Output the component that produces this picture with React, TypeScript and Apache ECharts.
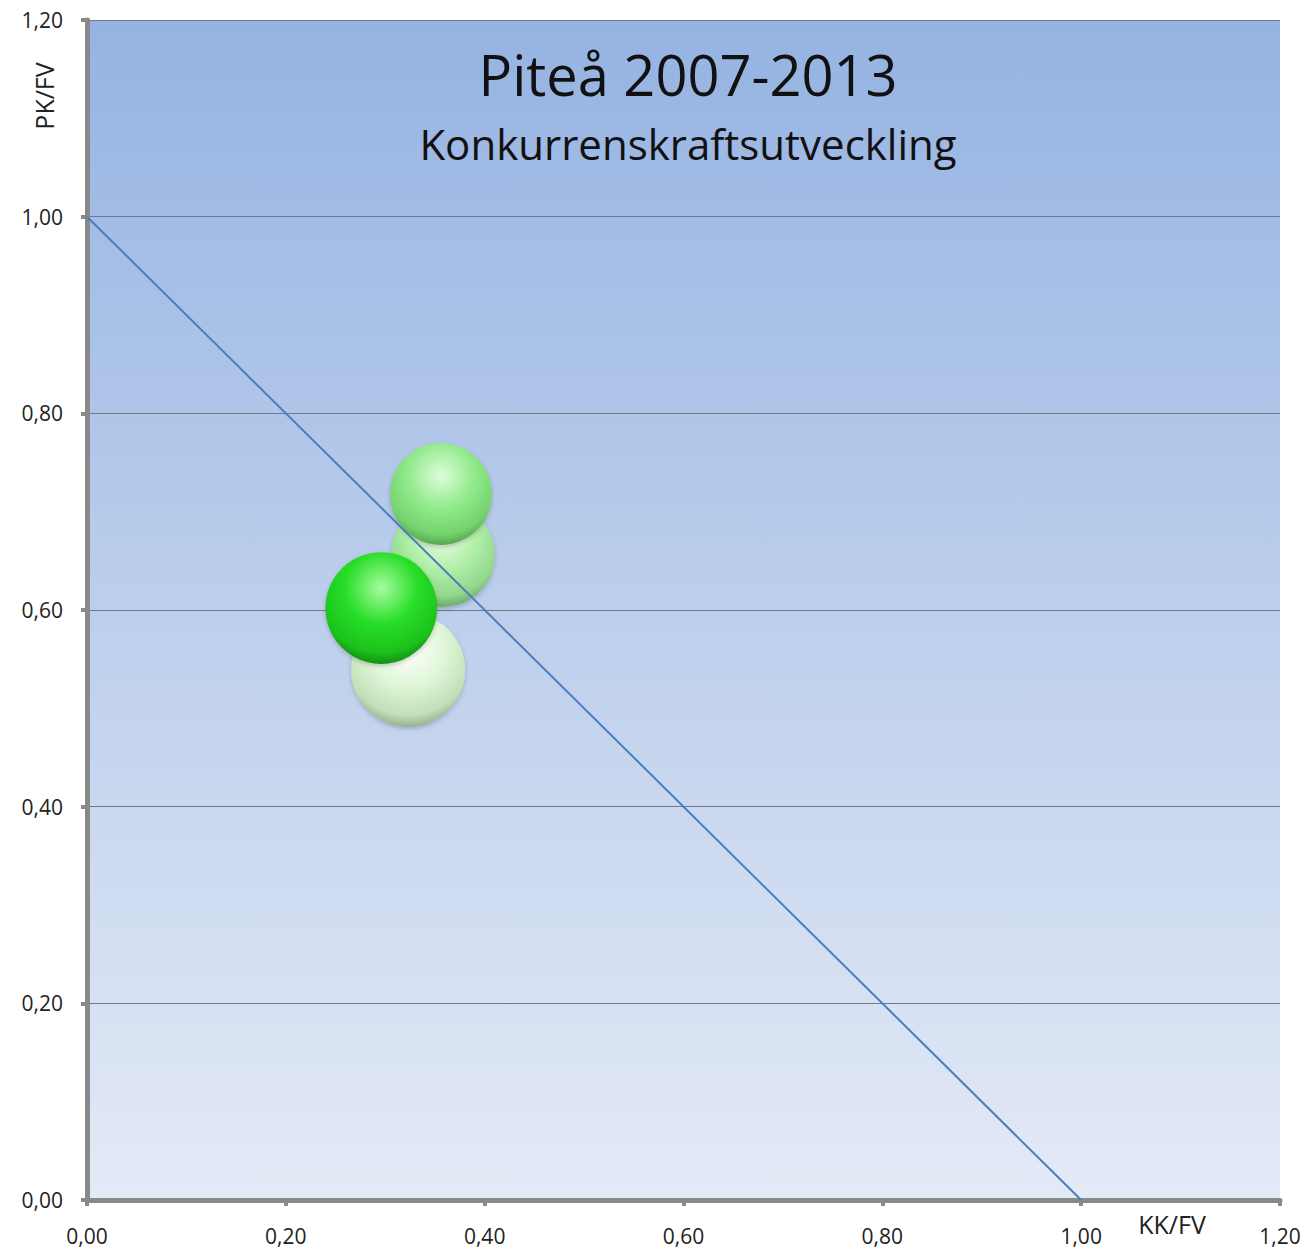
import React, { useEffect, useRef } from "react";
import * as echarts from "echarts";

const years = ["2007", "2009", "2011", "2013"];
const kkfv = [0.323, 0.358, 0.356, 0.296];
const pkfv = [0.539, 0.656, 0.718, 0.602];
const bubbleValues = [1.3, 1.08, 1.04, 1.25];
const lineX = [0, 1];
const lineY = [1, 0];

const bubbleColors = [
  ["#ffffff", "#e0f6d8", "#c0e0b8", "#889f84"],
  ["#eefdea", "#b0efa8", "#92d68c", "#5e9c5a"],
  ["#dffcdb", "#92ea8c", "#74d26e", "#4a9646"],
  ["#a8fba0", "#28de28", "#1cc21c", "#0f7e0f"],
];

const fmt = (v: number) => v.toFixed(2).replace(".", ",");

export default function App() {
  const ref = useRef<HTMLDivElement>(null);
  useEffect(() => {
    document.body.style.margin = "0";
    const chart = echarts.init(ref.current!, null, { renderer: "svg" });
    const font = "'Open Sans', 'Noto Sans', sans-serif";
    const bubbleData = kkfv.map((x, i) => ({
      name: years[i],
      value: [x, pkfv[i], bubbleValues[i]],
      itemStyle: {
        opacity: 1,
        color: {
          type: "radial",
          x: 0.5,
          y: 0.32,
          r: 0.72,
          colorStops: [
            { offset: 0, color: bubbleColors[i][0] },
            { offset: 0.45, color: bubbleColors[i][1] },
            { offset: 0.8, color: bubbleColors[i][2] },
            { offset: 1, color: bubbleColors[i][3] },
          ],
        },
        shadowBlur: 4,
        shadowColor: "rgba(0,0,0,0.2)",
        shadowOffsetY: 2,
      },
    }));
    chart.setOption({
      animation: false,
      textStyle: { fontFamily: font },
      grid: {
        left: 87,
        right: 27,
        top: 20,
        bottom: 51,
        outerBoundsMode: "none",
        containLabel: false,
        show: true,
        borderWidth: 0,
        backgroundColor: {
          type: "linear",
          x: 0, y: 0, x2: 0, y2: 1,
          colorStops: [
            { offset: 0, color: "#95b3e2" },
            { offset: 1, color: "#e4eaf6" },
          ],
        },
      },
      xAxis: {
        type: "value",
        min: 0,
        max: 1.2,
        interval: 0.2,
        axisLine: { show: true, lineStyle: { color: "#898989", width: 5 } },
        axisTick: { show: true, length: 6, lineStyle: { color: "#898989", width: 4 } },
        axisLabel: { formatter: (v: number) => fmt(v), fontSize: 21, color: "#222", margin: 25 },
        splitLine: { show: false },
      },
      yAxis: {
        type: "value",
        min: 0,
        max: 1.2,
        interval: 0.2,
        axisLine: { show: true, lineStyle: { color: "#898989", width: 5 } },
        axisTick: { show: true, length: 6, lineStyle: { color: "#898989", width: 4 } },
        axisLabel: { formatter: (v: number) => fmt(v), fontSize: 21, color: "#222", margin: 24 },
        splitLine: { show: true, lineStyle: { color: "#6f7a88", width: 1 } },
      },
      series: [
        {
          type: "scatter",
          data: bubbleData,
          symbolSize: (v: number[]) => 100 * Math.sqrt(v[2]),
          z: 2,
        },
        {
          type: "line",
          data: lineX.map((x, i) => [x, lineY[i]]),
          symbol: "none",
          lineStyle: { color: "#4a7ebb", width: 2 },
          z: 3,
        },
      ],
      graphic: [
        {
          type: "text",
          x: 688,
          y: 74,
          z: 10,
          style: {
            text: "Piteå 2007-2013",
            fontSize: 56,
            fontFamily: font,
            fill: "#111",
            align: "center",
            verticalAlign: "middle",
          },
        },
        {
          type: "text",
          x: 688,
          y: 143,
          z: 10,
          style: {
            text: "Konkurrenskraftsutveckling",
            fontSize: 42,
            fontFamily: font,
            fill: "#111",
            align: "center",
            verticalAlign: "middle",
          },
        },
        {
          type: "text",
          x: 44,
          y: 96,
          rotation: Math.PI / 2,
          z: 10,
          style: {
            text: "PK/FV",
            fontSize: 25,
            fontFamily: font,
            fill: "#222",
            align: "center",
            verticalAlign: "middle",
          },
        },
        {
          type: "text",
          x: 1172,
          y: 1224,
          z: 10,
          style: {
            text: "KK/FV",
            fontSize: 25,
            fontFamily: font,
            fill: "#222",
            align: "center",
            verticalAlign: "middle",
          },
        },
      ],
    });
    return () => chart.dispose();
  }, []);
  return <div ref={ref} style={{ width: 1307, height: 1251 }} />;
}
